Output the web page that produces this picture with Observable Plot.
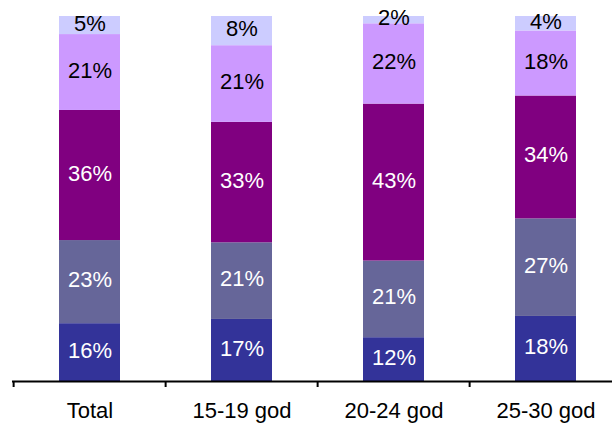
<!DOCTYPE html>
<html>
<head>
<meta charset="utf-8">
<script src="https://cdn.jsdelivr.net/npm/d3@7"></script>
<script src="https://cdn.jsdelivr.net/npm/@observablehq/plot@0.6"></script>
<style>
  body { margin: 0; background: #fff; }
</style>
</head>
<body>
<div id="chart"></div>
<script>
const categories = ["Total", "15-19 god", "20-24 god", "25-30 god"];
// bottom to top
const series1 = [16, 17, 12, 18];
const series2 = [23, 21, 21, 27];
const series3 = [36, 33, 43, 34];
const series4 = [21, 21, 22, 18];
const series5 = [5, 8, 2, 4];
const seriesValues = [series1, series2, series3, series4, series5];
const seriesColors = ["#333399", "#666699", "#800080", "#cc99ff", "#ccccff"];
const labelColors = ["white", "white", "white", "black", "black"];

const rows = categories.flatMap((cat, i) =>
  seriesValues.map((vals, k) => ({
    cat, k, value: vals[i], color: seriesColors[k], labelColor: labelColors[k]
  }))
);

const W = 612, H = 423;
const xRange = [12, 623];
const step = (xRange[1] - xRange[0]) / categories.length;

const chart = Plot.plot({
  width: W,
  height: H,
  marginLeft: 12,
  marginRight: 0,
  marginTop: 16,
  marginBottom: 42,
  style: { fontFamily: "Liberation Sans, Arial, sans-serif", fontSize: "22px", background: "#fff", color: "black" },
  x: { domain: categories, range: xRange, paddingInner: 0.6, paddingOuter: 0.3, label: null, axis: null },
  y: { domain: [0, 1], axis: null, label: null },
  color: { type: "identity" },
  marks: [
    Plot.barY(rows, Plot.stackY({ offset: "normalize", x: "cat", y: "value", fill: "color" })),
    Plot.text(rows, Plot.stackY({
      offset: "normalize", x: "cat", y: "value",
      text: d => d.value + "%", fill: "labelColor", fontSize: 22, dy: -2
    })),
    Plot.ruleY([0], { stroke: "black", strokeWidth: 2 }),
    Plot.ruleX(categories, { x: d => d, dx: -step / 2, y1: 0, y2: 0, insetBottom: -6, stroke: "black", strokeWidth: 2 }),
    Plot.axisX({ tickSize: 0, tickPadding: 21, fontSize: 22, label: null })
  ]
});
document.getElementById("chart").appendChild(chart);
</script>
</body>
</html>
